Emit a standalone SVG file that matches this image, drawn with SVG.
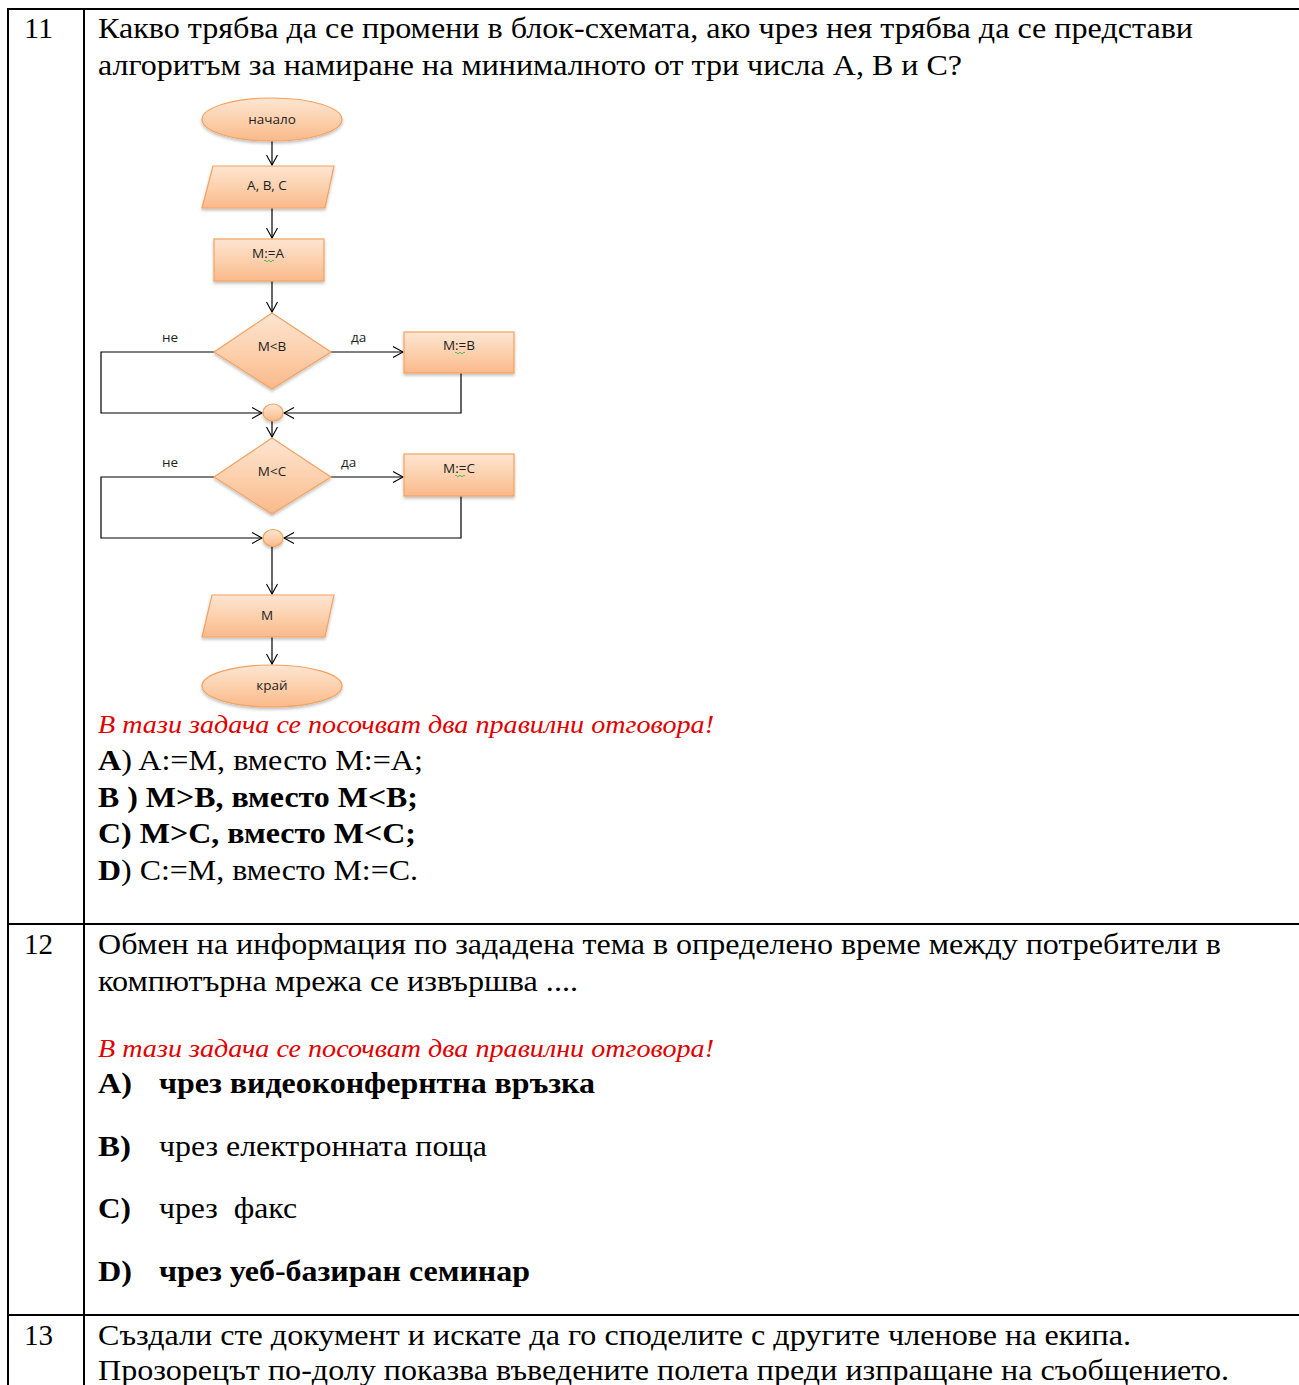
<svg xmlns="http://www.w3.org/2000/svg" width="1299" height="1385" viewBox="0 0 1299 1385">
<defs>
<linearGradient id="og" x1="0" y1="0" x2="0" y2="1">
<stop offset="0" stop-color="#fde5d2"/>
<stop offset="0.5" stop-color="#fcd1ae"/>
<stop offset="1" stop-color="#fab98a"/>
</linearGradient>
<filter id="sh" x="-20%" y="-20%" width="140%" height="150%">
<feDropShadow dx="0" dy="2" stdDeviation="1.5" flood-color="#000" flood-opacity="0.25"/>
</filter>
<marker id="ar" markerWidth="14" markerHeight="14" refX="11" refY="7" orient="auto" markerUnits="userSpaceOnUse">
<path d="M1,1.5 L11,7 L1,12.5" fill="none" stroke="#000" stroke-width="1.1"/>
</marker>
</defs>
<style>
.t{font-family:"Liberation Serif","Times New Roman",serif;font-size:29px;fill:#000}
.b{font-weight:bold}
.r{fill:#e00000;font-style:italic;font-size:25.5px}
.s{fill:url(#og);stroke:#f5a25e;stroke-width:1.2;filter:url(#sh)}
.f{font-family:"Open Sans","Liberation Sans",sans-serif;font-size:13.5px;fill:#1e1e1e;text-anchor:middle}
.l{font-family:"Open Sans","Liberation Sans",sans-serif;font-size:13.5px;fill:#1e1e1e}
.c{fill:none;stroke:#000;stroke-width:1.2}
.g{fill:none;stroke:#4caf50;stroke-width:0.9}
.tb{stroke:#000;stroke-width:2;fill:none}
</style>

<g id="table">
<line class="tb" x1="8" y1="9" x2="1299" y2="9"/>
<line class="tb" x1="8" y1="8" x2="8" y2="1385"/>
<line class="tb" x1="84" y1="8" x2="84" y2="1385"/>
<line class="tb" x1="8" y1="924" x2="1299" y2="924"/>
<line class="tb" x1="8" y1="1315" x2="1299" y2="1315"/>
</g>

<g id="q11-text">
<text class="t" x="24" y="38" textLength="29" lengthAdjust="spacingAndGlyphs">11</text>
<text class="t" x="98" y="38" textLength="1095" lengthAdjust="spacingAndGlyphs">Какво трябва да се промени в блок-схемата, ако чрез нея трябва да се представи</text>
<text class="t" x="98" y="75" textLength="864" lengthAdjust="spacingAndGlyphs">алгоритъм за намиране на минималното от три числа A, B и C?</text>
<text class="t r" x="98" y="733" textLength="616" lengthAdjust="spacingAndGlyphs">В тази задача се посочват два правилни отговора!</text>
<text class="t" x="98" y="770" textLength="325" lengthAdjust="spacingAndGlyphs"><tspan class="b">A</tspan>) A:=M, вместо M:=A;</text>
<text class="t b" x="98" y="807" textLength="320" lengthAdjust="spacingAndGlyphs">B ) M&gt;B, вместо M&lt;B;</text>
<text class="t b" x="98" y="843" textLength="318" lengthAdjust="spacingAndGlyphs">C) M&gt;C, вместо M&lt;C;</text>
<text class="t" x="98" y="880" textLength="320" lengthAdjust="spacingAndGlyphs"><tspan class="b">D</tspan>) C:=M, вместо M:=C.</text>
</g>

<g id="connectors">
<line class="c" x1="272" y1="141" x2="272" y2="165" marker-end="url(#ar)"/>
<line class="c" x1="272" y1="208" x2="272" y2="238" marker-end="url(#ar)"/>
<line class="c" x1="272" y1="281" x2="272" y2="312" marker-end="url(#ar)"/>
<polyline class="c" points="214,352 101,352 101,413 262,413" marker-end="url(#ar)"/>
<line class="c" x1="331" y1="352" x2="403" y2="352" marker-end="url(#ar)"/>
<polyline class="c" points="461,373 461,413 284,413" marker-end="url(#ar)"/>
<line class="c" x1="272" y1="421" x2="272" y2="437" marker-end="url(#ar)"/>
<polyline class="c" points="214,477 101,477 101,538 262,538" marker-end="url(#ar)"/>
<line class="c" x1="331" y1="477" x2="403" y2="477" marker-end="url(#ar)"/>
<polyline class="c" points="461,496 461,538 284,538" marker-end="url(#ar)"/>
<line class="c" x1="272" y1="546" x2="272" y2="594" marker-end="url(#ar)"/>
<line class="c" x1="272" y1="637" x2="272" y2="664" marker-end="url(#ar)"/>
<text class="l" x="162" y="342">не</text>
<text class="l" x="351" y="342">да</text>
<text class="l" x="162" y="467">не</text>
<text class="l" x="341" y="467">да</text>
</g>

<g id="start">
<ellipse class="s" cx="272" cy="119.5" rx="70" ry="21.5"/>
<text class="f" x="272" y="124">начало</text>
</g>
<g id="input">
<polygon class="s" points="213,166 334,166 325,208 202,208"/>
<text class="f" x="267" y="190">A, B, C</text>
</g>
<g id="assignA">
<rect class="s" x="214" y="239" width="110" height="42"/>
<text class="f" x="268" y="258">M:=A</text>
<path class="g" d="M264,261 q1,-2 2,0 t2,0 t2,0 t2,0 t2,0"/>
</g>
<g id="condB">
<polygon class="s" points="272,313 331,352 272,389 214,352"/>
<text class="f" x="272" y="351">M&lt;B</text>
</g>
<g id="assignB">
<rect class="s" x="404" y="332" width="110" height="41"/>
<text class="f" x="459" y="350">M:=B</text>
<path class="g" d="M455,353 q1,-2 2,0 t2,0 t2,0 t2,0 t2,0"/>
</g>
<g id="join1">
<ellipse class="s" cx="273" cy="412.5" rx="10" ry="8.5"/>
</g>
<g id="condC">
<polygon class="s" points="272,438 331,477 272,514 214,477"/>
<text class="f" x="272" y="476">M&lt;C</text>
</g>
<g id="assignC">
<rect class="s" x="404" y="454" width="110" height="42"/>
<text class="f" x="459" y="473">M:=C</text>
<path class="g" d="M455,476 q1,-2 2,0 t2,0 t2,0 t2,0 t2,0"/>
</g>
<g id="join2">
<ellipse class="s" cx="273" cy="538" rx="10" ry="8.5"/>
</g>
<g id="output">
<polygon class="s" points="212,595 334,595 325,637 202,637"/>
<text class="f" x="267" y="620">M</text>
</g>
<g id="end">
<ellipse class="s" cx="272" cy="686" rx="70" ry="21"/>
<text class="f" x="272" y="690">край</text>
</g>

<g id="q12-text">
<text class="t" x="24" y="954" textLength="29" lengthAdjust="spacingAndGlyphs">12</text>
<text class="t" x="98" y="954" textLength="1123" lengthAdjust="spacingAndGlyphs">Обмен на информация по зададена тема в определено време между потребители в</text>
<text class="t" x="98" y="991" textLength="480" lengthAdjust="spacingAndGlyphs">компютърна мрежа се извършва ....</text>
<text class="t r" x="98" y="1057" textLength="616" lengthAdjust="spacingAndGlyphs">В тази задача се посочват два правилни отговора!</text>
<text class="t b" x="98" y="1093" textLength="34" lengthAdjust="spacingAndGlyphs">A)</text>
<text class="t b" x="159" y="1093" textLength="436" lengthAdjust="spacingAndGlyphs">чрез видеоконфернтна връзка</text>
<text class="t b" x="98" y="1156" textLength="33" lengthAdjust="spacingAndGlyphs">B)</text>
<text class="t" x="159" y="1156" textLength="328" lengthAdjust="spacingAndGlyphs">чрез електронната поща</text>
<text class="t b" x="98" y="1218" textLength="33" lengthAdjust="spacingAndGlyphs">C)</text>
<text class="t" x="159" y="1218" xml:space="preserve" textLength="138" lengthAdjust="spacingAndGlyphs">чрез  факс</text>
<text class="t b" x="98" y="1281" textLength="34" lengthAdjust="spacingAndGlyphs">D)</text>
<text class="t b" x="159" y="1281" textLength="371" lengthAdjust="spacingAndGlyphs">чрез уеб-базиран семинар</text>
</g>

<g id="q13-text">
<text class="t" x="24" y="1345" textLength="29" lengthAdjust="spacingAndGlyphs">13</text>
<text class="t" x="98" y="1345" textLength="1033" lengthAdjust="spacingAndGlyphs">Създали сте документ и искате да го споделите с другите членове на екипа.</text>
<text class="t" x="98" y="1380" textLength="1131" lengthAdjust="spacingAndGlyphs">Прозорецът по-долу показва въведените полета преди изпращане на съобщението.</text>
</g>
</svg>
